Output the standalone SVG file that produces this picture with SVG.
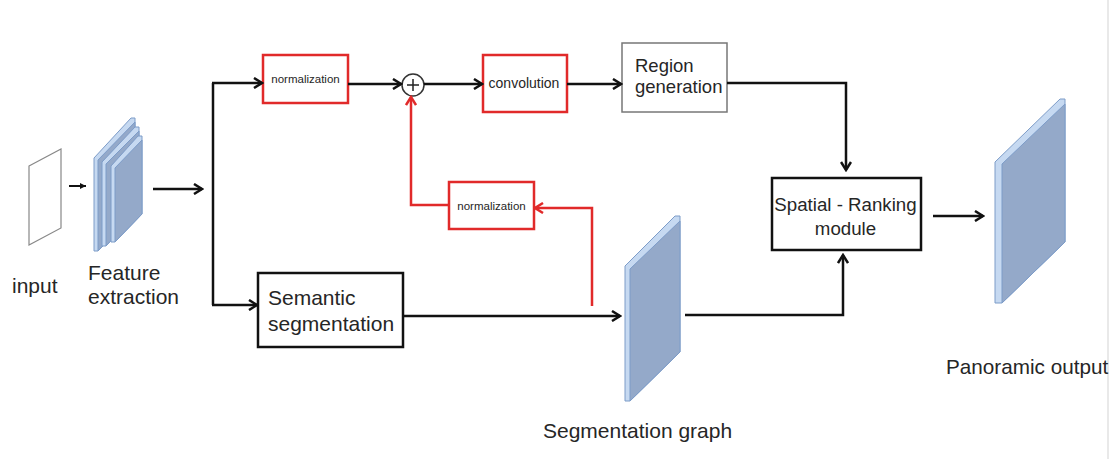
<svg xmlns="http://www.w3.org/2000/svg" width="1114" height="459" viewBox="0 0 1114 459">
<style>
text{font-family:"Liberation Sans",Arial,sans-serif;fill:#262626}
.big{font-size:21px}
.sm{font-size:11.5px}
.blk{fill:none;stroke:#111;stroke-width:2.5}
.red{fill:none;stroke:#e12a2a;stroke-width:2.5}
.redbox{fill:#fff;stroke:#e12a2a;stroke-width:2.5}
.bbox{fill:#fff;stroke:#111;stroke-width:2.5}
.gbox{fill:#fff;stroke:#777;stroke-width:1.5}
.slab{fill:#c6d9f1;stroke:#7d9cc8;stroke-width:1}
.face{fill:#94a9c9;stroke:#7d9cc8;stroke-width:1}
</style>
<defs>
<marker id="ab" viewBox="0 0 12 12" markerWidth="12" markerHeight="12" refX="10" refY="6" orient="auto" markerUnits="userSpaceOnUse">
<path d="M2,1 L10,6 L2,11" fill="none" stroke="#111" stroke-width="2.5"/>
</marker>
<marker id="ar" viewBox="0 0 12 12" markerWidth="12" markerHeight="12" refX="10" refY="6" orient="auto" markerUnits="userSpaceOnUse">
<path d="M2,1 L10,6 L2,11" fill="none" stroke="#e12a2a" stroke-width="2.5"/>
</marker>
<marker id="as" viewBox="0 0 8 8" markerWidth="8" markerHeight="8" refX="7" refY="4" orient="auto" markerUnits="userSpaceOnUse">
<path d="M1,1 L7,4 L1,7 Z" fill="#111"/>
</marker>
</defs>
<rect width="1114" height="459" fill="#fff"/>
<line x1="1108" y1="0" x2="1108" y2="459" stroke="#e2e2e2" stroke-width="1.5"/>

<g id="input">
<polygon points="29,166 61,149 61,228 29,245" fill="#fff" stroke="#888" stroke-width="1.2"/>
<text class="big" x="12" y="293">input</text>
</g>

<g id="feature-extraction">
<polygon class="slab" points="94,158 131,118 135,118 135,212 98,251 94,251"/>
<polygon class="face" points="98,160 135,122 135,212 98,251"/>
<polygon class="slab" points="102,162 135,127 139,127 139,210 106,246 102,246"/>
<polygon class="face" points="106,164 139,131 139,210 106,246"/>
<polygon class="slab" points="111,166 138,136 142,136 142,214 115,242 111,242"/>
<polygon class="face" points="115,168 142,140 142,214 115,242"/>
<text class="big" x="88" y="280">Feature</text>
<text class="big" x="88" y="304">extraction</text>
</g>

<g id="normalization-top">
<rect class="redbox" x="263" y="55" width="85" height="48"/>
<text class="sm" x="305.5" y="83" text-anchor="middle">normalization</text>
</g>

<g id="sum">
<circle cx="413" cy="85" r="11" fill="#fff" stroke="#333" stroke-width="1.5"/>
<path d="M407,85 H419 M413,79 V91" stroke="#222" stroke-width="1.5"/>
</g>

<g id="convolution">
<rect class="redbox" x="483" y="55" width="84" height="57"/>
<text x="524" y="88" text-anchor="middle" style="font-size:14px">convolution</text>
</g>

<g id="region-generation">
<rect class="gbox" x="622" y="43" width="105" height="69"/>
<text x="635" y="72" style="font-size:18.5px">Region</text>
<text x="635" y="93" style="font-size:18.5px">generation</text>
</g>

<g id="normalization-bottom">
<rect class="redbox" x="449" y="182" width="85" height="47"/>
<text class="sm" x="491.5" y="210" text-anchor="middle">normalization</text>
</g>

<g id="semantic-segmentation">
<rect class="bbox" x="258" y="273" width="145" height="74"/>
<text class="big" x="268" y="305">Semantic</text>
<text class="big" x="268" y="331">segmentation</text>
</g>

<g id="segmentation-graph">
<polygon class="slab" points="625,266 675,216 680,216 680,352 630,401 625,401"/>
<polygon class="face" points="630,269 680,221 680,352 630,401"/>
<text class="big" x="543" y="438">Segmentation graph</text>
</g>

<g id="spatial-ranking">
<rect class="bbox" x="772" y="178" width="149" height="72"/>
<text x="845.5" y="211" text-anchor="middle" style="font-size:18.7px">Spatial - Ranking</text>
<text x="845.5" y="235" text-anchor="middle" style="font-size:18.7px">module</text>
</g>

<g id="panoramic-output">
<polygon class="slab" points="995,162 1060,99 1065,99 1065,242 1002,303 995,303"/>
<polygon class="face" points="1002,164 1065,104 1065,242 1002,303"/>
<text x="946" y="374" style="font-size:20.7px">Panoramic output</text>
</g>

<g id="connectors">
<path d="M69,186 H86" fill="none" stroke="#111" stroke-width="2" marker-end="url(#as)"/>
<path class="blk" d="M153,189 H202" marker-end="url(#ab)"/>
<path class="blk" d="M213,83 V305"/>
<path class="blk" d="M212,83 H262" marker-end="url(#ab)"/>
<path class="blk" d="M212,305 H257" marker-end="url(#ab)"/>
<path class="blk" d="M348,84 H401" marker-end="url(#ab)"/>
<path class="blk" d="M424,84 H482" marker-end="url(#ab)"/>
<path class="blk" d="M567,84 H621" marker-end="url(#ab)"/>
<path class="blk" d="M727,83 H846 V170" marker-end="url(#ab)"/>
<path class="blk" d="M403,316 H620" marker-end="url(#ab)"/>
<path class="blk" d="M685,315 H843 V255" marker-end="url(#ab)"/>
<path class="blk" d="M933,216 H983" marker-end="url(#ab)"/>
<path class="red" d="M592,306 V208 H535" marker-end="url(#ar)"/>
<path class="red" d="M449,205 H411 V97" marker-end="url(#ar)"/>
</g>
</svg>
